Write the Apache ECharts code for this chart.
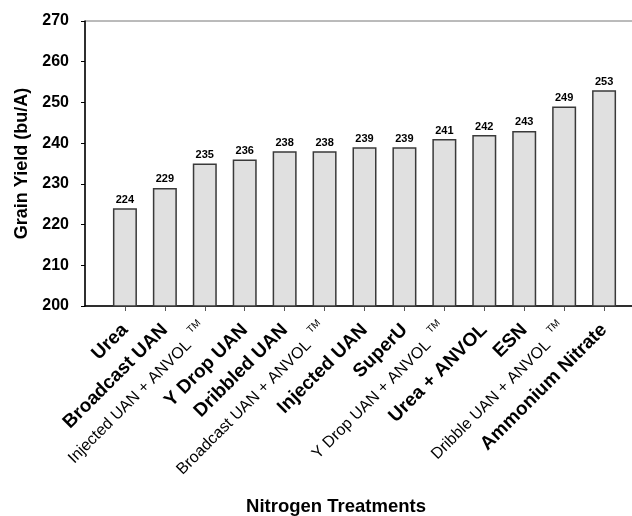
<!DOCTYPE html>
<html>
<head>
<meta charset="utf-8">
<script src="https://cdn.jsdelivr.net/npm/echarts@6/dist/echarts.min.js"></script>
<style>
  html, body { margin: 0; padding: 0; background: #fff; }
  #chart { width: 632px; height: 516px; }
</style>
</head>
<body>
<div id="chart"></div>
<script>
const categories = ['Urea', 'Broadcast UAN', 'Injected UAN + ANVOL TM', 'Y Drop UAN', 'Dribbled UAN',
  'Broadcast UAN + ANVOL TM', 'Injected UAN', 'SuperU', 'Y Drop UAN + ANVOL TM', 'Urea + ANVOL',
  'ESN', 'Dribble UAN + ANVOL TM', 'Ammonium Nitrate'];
const yields = [224, 229, 235, 236, 238, 238, 239, 239, 241, 242, 243, 249, 253];
const yTicks = [200, 210, 220, 230, 240, 250, 260, 270];

const font = "'Liberation Sans', Arial, sans-serif";

// empty slots at both ends so the first bar sits one step from the y axis
const axisCats = [''].concat(categories, ['']);
const seriesData = ['-'].concat(yields, ['-']);

const chart = echarts.init(document.getElementById('chart'));

const option = {
  backgroundColor: '#fff',
  animation: false,
  textStyle: { fontFamily: font },
  title: {
    text: 'Nitrogen Treatments',
    left: 331,
    textAlign: 'center',
    top: 492,
    textStyle: { fontFamily: font, fontSize: 18.5, fontWeight: 'bold', color: '#000' }
  },
  grid: {
    left: 85,
    right: -12,
    top: 21,
    bottom: 210,
    outerBoundsMode: 'none',
    show: true,
    borderColor: '#777',
    borderWidth: 1
  },
  xAxis: {
    type: 'category',
    data: axisCats,
    boundaryGap: false,
    axisLine: { lineStyle: { color: '#000', width: 1.5 } },
    axisTick: {
      show: true,
      length: 5,
      interval: function (i, v) { return v !== ''; },
      lineStyle: { color: '#555' }
    },
    axisLabel: {
      interval: 0,
      rotate: 45,
      margin: 21,
      color: '#000',
      formatter: function (v) {
        if (v.indexOf(' TM') > 0) return '{n|' + v.replace(' TM', '') + '}{tm|TM}';
        return '{b|' + v + '}';
      },
      rich: {
        b: { fontFamily: font, fontSize: 19, fontWeight: 'bold', color: '#000' },
        n: { fontFamily: font, fontSize: 16, color: '#000' },
        tm: { fontFamily: font, fontSize: 10, color: '#000', padding: [0, 0, 16, 8] }
      }
    },
    splitLine: { show: false }
  },
  yAxis: {
    type: 'value',
    min: yTicks[0],
    max: yTicks[yTicks.length - 1],
    interval: 10,
    name: 'Grain Yield (bu/A)',
    nameLocation: 'middle',
    nameGap: 53,
    nameTextStyle: { fontFamily: font, fontSize: 18, fontWeight: 'bold', color: '#000' },
    axisLine: { show: true, lineStyle: { color: '#000', width: 1.5 } },
    axisTick: { show: true, length: 4, lineStyle: { color: '#000' } },
    axisLabel: {
      margin: 16,
      color: '#000',
      fontFamily: font,
      fontSize: 16,
      fontWeight: 'bold'
    },
    splitLine: { show: false }
  },
  series: [{
    type: 'bar',
    data: seriesData,
    barWidth: 24,
    itemStyle: { color: '#e0e0e0', borderColor: '#3a3a3a', borderWidth: 1.5 },
    label: {
      show: true,
      position: 'top',
      distance: 3,
      color: '#000',
      fontFamily: font,
      fontSize: 11,
      fontWeight: 'bold'
    }
  }]
};

chart.setOption(option);
</script>
</body>
</html>
